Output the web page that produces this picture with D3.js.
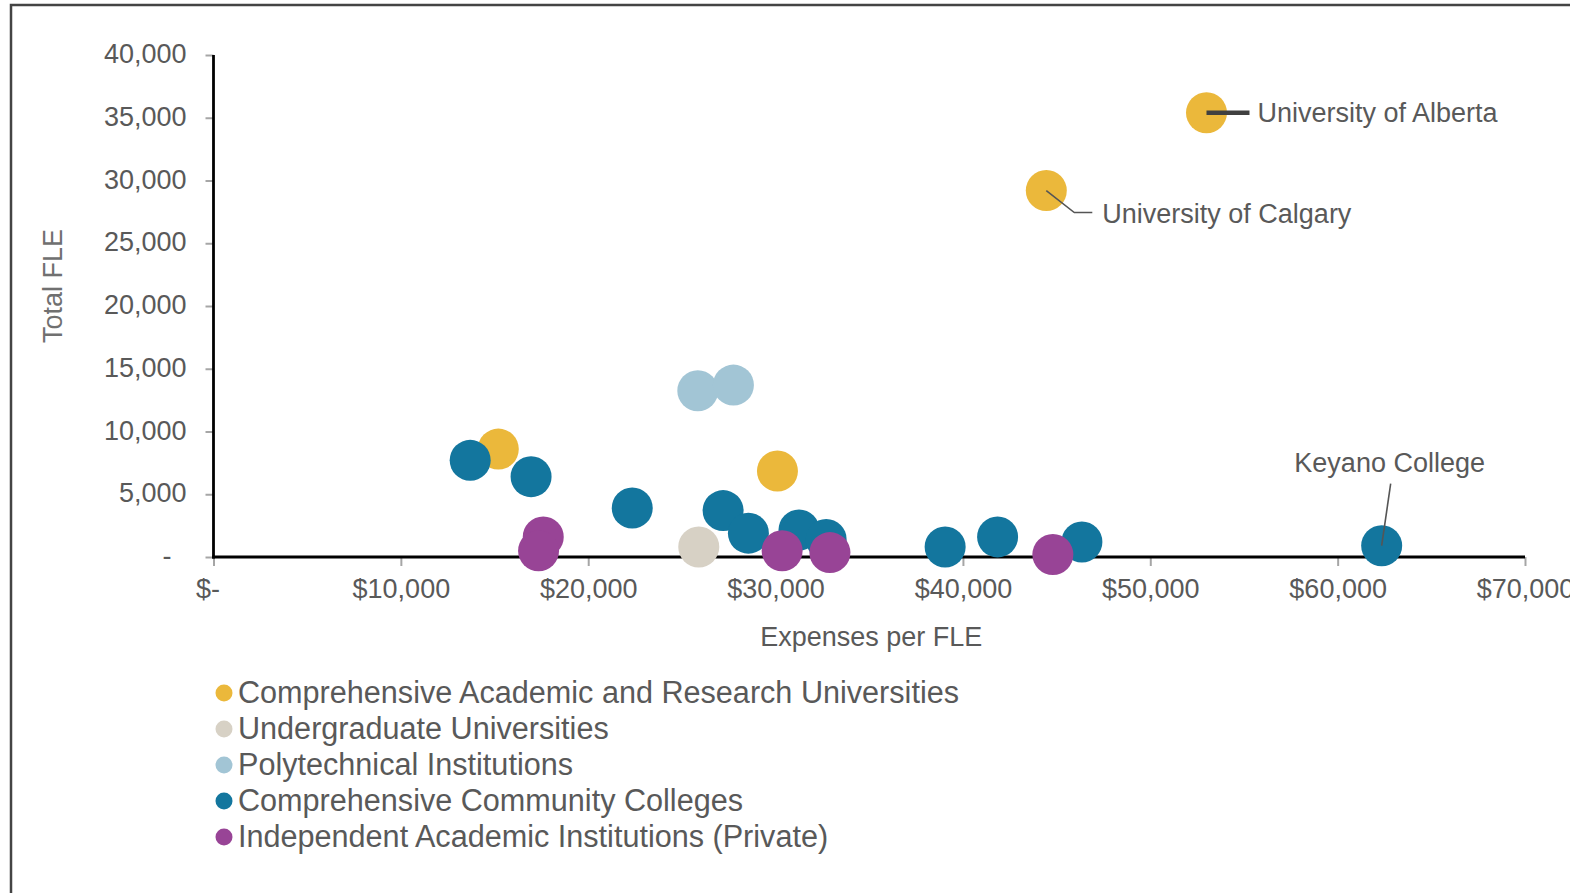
<!DOCTYPE html>
<html>
<head>
<meta charset="utf-8">
<script src="https://cdn.jsdelivr.net/npm/d3@7"></script>
<style>
  html, body { margin: 0; padding: 0; background: #fff; }
  svg { display: block; font-family: "Liberation Sans", Arial, sans-serif; }
</style>
</head>
<body>
<svg id="chart" width="1570" height="893"></svg>
<script>
// Institution groups, in legend / drawing order
const categories = [
  "Comprehensive Academic and Research Universities",
  "Undergraduate Universities",
  "Polytechnical Institutions",
  "Comprehensive Community Colleges",
  "Independent Academic Institutions (Private)"
];
const categoryColors = ["#EBB83B", "#D7D1C5", "#A2C5D5", "#13769E", "#984496"];

// Expenses per FLE ($) and Total FLE for each institution, per group
const caruExpenses = [53000, 44450, 15200, 30100];
const caruFLE      = [35400, 29200, 8600, 6850];
const caruNames    = ["University of Alberta", "University of Calgary", "", ""];

const ugExpenses = [25900];
const ugFLE      = [800];

const polyExpenses = [25850, 27750];
const polyFLE      = [13250, 13700];

const cccExpenses = [13700, 16950, 22350, 27200, 28550, 31250, 32700, 39050, 41850, 46350, 62350];
const cccFLE      = [7700, 6400, 3900, 3700, 1900, 2150, 1400, 800, 1600, 1200, 900];
const cccNames    = ["", "", "", "", "", "", "", "", "", "", "Keyano College"];

const privExpenses = [17600, 17350, 30350, 32900, 44800];
const privFLE      = [1600, 500, 500, 350, 200];

const xTicks = [0, 10000, 20000, 30000, 40000, 50000, 60000, 70000];
const yTicks = [0, 5000, 10000, 15000, 20000, 25000, 30000, 35000, 40000];

const xTitle = "Expenses per FLE";
const yTitle = "Total FLE";

// Build the point table from the group arrays
const groups = [
  { ex: caruExpenses, fle: caruFLE, names: caruNames },
  { ex: ugExpenses, fle: ugFLE },
  { ex: polyExpenses, fle: polyFLE },
  { ex: cccExpenses, fle: cccFLE, names: cccNames },
  { ex: privExpenses, fle: privFLE }
];
const points = [];
groups.forEach((g, gi) => {
  g.ex.forEach((v, i) => {
    points.push({ cat: gi, x: v, y: g.fle[i], name: g.names ? g.names[i] : "" });
  });
});

const svg = d3.select("#chart");
const textColor = "#595959";
const fontSize = 27;

// Frame lines along the top and left edges
svg.append("path")
  .attr("d", "M11,893 V5 H1570")
  .attr("fill", "none")
  .attr("stroke", "#444")
  .attr("stroke-width", 2.5);

const x = d3.scaleLinear().domain([0, 70000]).range([213.5, 1525]);
const y = d3.scaleLinear().domain([0, 40000]).range([557, 55]);

const fmtNum = d3.format(",");

// Y axis
const yAxis = svg.append("g").attr("transform", `translate(${x(0)},0)`)
  .call(d3.axisLeft(y).tickValues(yTicks).tickSize(8).tickPadding(20)
    .tickFormat(d => d === 0 ? "-" : fmtNum(d)));
yAxis.select(".domain").remove();
yAxis.selectAll(".tick line").attr("stroke", "#a6a6a6").attr("stroke-width", 2);
yAxis.selectAll(".tick text")
  .attr("fill", textColor)
  .attr("font-size", fontSize)
  .attr("font-family", "Liberation Sans, Arial, sans-serif")
  .attr("dy", null)
  .attr("y", 7.5)
  .attr("dx", d => d === 0 ? -14 : 1)
  .attr("textLength", d => d === 0 ? null : null);

// X axis
const xAxis = svg.append("g").attr("transform", `translate(0,${y(0)})`)
  .call(d3.axisBottom(x).tickValues(xTicks).tickSize(9).tickPadding(0)
    .tickFormat(d => d === 0 ? "$-" : "$" + fmtNum(d)));
xAxis.select(".domain").remove();
xAxis.selectAll(".tick line").attr("stroke", "#a6a6a6").attr("stroke-width", 2);
xAxis.selectAll(".tick text")
  .attr("fill", textColor)
  .attr("font-size", fontSize)
  .attr("font-family", "Liberation Sans, Arial, sans-serif")
  .attr("dy", null)
  .attr("y", 41)
  .attr("dx", d => d === 0 ? -6 : 0);

// Axis lines
svg.append("line")
  .attr("x1", x(0)).attr("x2", x(0))
  .attr("y1", y(40000)).attr("y2", y(0) + 1.5)
  .attr("stroke", "#000").attr("stroke-width", 2.8);
svg.append("line")
  .attr("x1", x(0) - 1.4).attr("x2", x(70000))
  .attr("y1", y(0)).attr("y2", y(0))
  .attr("stroke", "#000").attr("stroke-width", 2.8);

// Axis titles
svg.append("text")
  .attr("x", (x(0) + x(70000)) / 2 + 2)
  .attr("y", 646)
  .attr("text-anchor", "middle")
  .attr("fill", textColor)
  .attr("font-size", fontSize)
  .text(xTitle);
svg.append("text")
  .attr("transform", "translate(62,286) rotate(-90)")
  .attr("text-anchor", "middle")
  .attr("fill", "#707070")
  .attr("font-size", fontSize)
  .text(yTitle);

// Points
svg.append("g").selectAll("circle")
  .data(points)
  .join("circle")
  .attr("cx", d => x(d.x))
  .attr("cy", d => y(d.y))
  .attr("r", 20.5)
  .attr("fill", d => categoryColors[d.cat]);

// Callouts for named institutions
const named = points.filter(d => d.name);
const callout = {
  "University of Alberta": { path: (cx, cy) => `M${cx},${cy} H${cx + 43}`, w: 4.5, color: "#404040",
                             tx: 51, ty: 9, anchor: "start" },
  "University of Calgary": { path: (cx, cy) => `M${cx},${cy} L${cx + 28},${cy + 22} H${cx + 46}`, w: 1.6, color: "#555",
                             tx: 56, ty: 32, anchor: "start" },
  "Keyano College":        { path: (cx, cy) => `M${cx},${cy} L${cx + 9},${cy - 62}`, w: 1.6, color: "#555",
                             tx: 8, ty: -74, anchor: "middle" }
};
named.forEach(d => {
  const c = callout[d.name];
  const cx = x(d.x), cy = y(d.y);
  svg.append("path")
    .attr("d", c.path(cx, cy))
    .attr("fill", "none")
    .attr("stroke", c.color)
    .attr("stroke-width", c.w);
  svg.append("text")
    .attr("x", cx + c.tx)
    .attr("y", cy + c.ty)
    .attr("text-anchor", c.anchor)
    .attr("fill", textColor)
    .attr("font-size", fontSize)
    .text(d.name);
});

// Legend
const legend = svg.append("g").selectAll("g")
  .data(categories)
  .join("g")
  .attr("transform", (d, i) => `translate(224,${692 + i * 36})`);
legend.append("circle")
  .attr("cy", 1)
  .attr("r", 8.5)
  .attr("fill", (d, i) => categoryColors[i]);
legend.append("text")
  .attr("x", 14)
  .attr("y", 11)
  .attr("fill", textColor)
  .attr("font-size", 30.6)
  .text(d => d);
</script>
</body>
</html>
